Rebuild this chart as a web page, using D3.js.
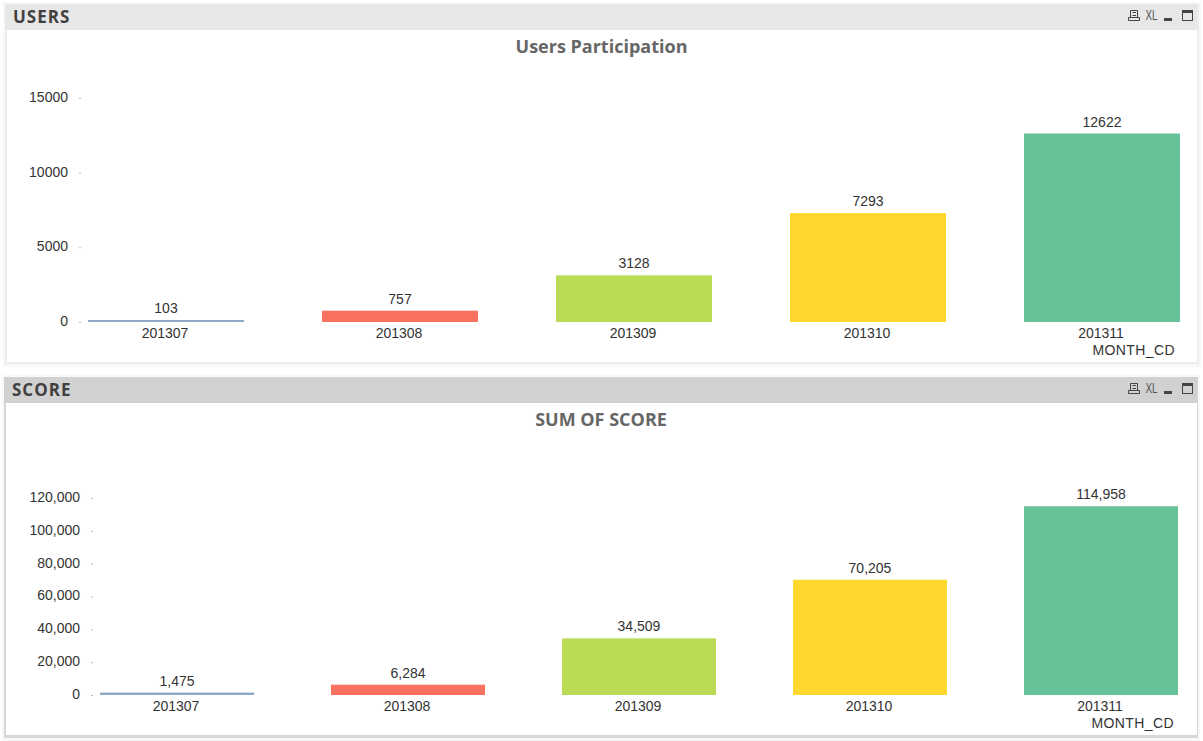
<!DOCTYPE html>
<html>
<head>
<meta charset="utf-8">
<script src="https://cdn.jsdelivr.net/npm/d3@7"></script>
<style>
  html, body { margin: 0; padding: 0; background: #fff; overflow: hidden; }
  svg { display: block; }
  text { font-family: "Liberation Sans", Arial, sans-serif; }
  .caption { font-family: "Open Sans", sans-serif; font-weight: 700; font-size: 17px; letter-spacing: 1px; fill: #404040; }
  .title { font-family: "Open Sans", sans-serif; font-weight: 700; font-size: 18px; fill: #666; }
  .lbl { font-size: 14px; fill: #333; }
</style>
</head>
<body>
<svg id="chart" width="1203" height="741"></svg>
<script>
  const MONTHS = ["201307", "201308", "201309", "201310", "201311"];
  const COLORS = ["#8dabc9", "#fb7160", "#badb55", "#fed82c", "#66c398"];

  const USERS = [103, 757, 3128, 7293, 12622];
  const USERS_TICKS = [0, 5000, 10000, 15000];

  const SCORE = [1475, 6284, 34509, 70205, 114958];
  const SCORE_TICKS = [0, 20000, 40000, 60000, 80000, 100000, 120000];

  const svg = d3.select("#chart");
  const fmtComma = d3.format(",");
  const fmtPlain = d3.format("d");

  function drawIcons(g, right, cy) {
    // print / XL / minimize / maximize buttons on the caption bar
    const ic = g.append("g").attr("fill", "none").attr("stroke", "#444");
    const px = right - 64;
    ic.append("path")
      .attr("d", `M${px + 1.5} ${cy + 1}V${cy - 5.5}H${px + 8.5}V${cy + 1}M${px - 0.5} ${cy + 1.5}H${px + 10.5}V${cy + 4.5}H${px - 0.5}ZM${px + 3.5} ${cy - 3.5}H${px + 7}M${px + 3.5} ${cy - 0.5}H${px + 7}`);
    g.append("text")
      .attr("x", right - 47.5)
      .attr("y", cy + 4)
      .attr("font-size", 15)
      .attr("fill", "#555")
      .attr("textLength", 12)
      .attr("lengthAdjust", "spacingAndGlyphs")
      .text("XL");
    g.append("rect")
      .attr("x", right - 29)
      .attr("y", cy + 2)
      .attr("width", 8)
      .attr("height", 3)
      .attr("fill", "#444");
    ic.append("rect")
      .attr("x", right - 10.5)
      .attr("y", cy - 5.5)
      .attr("width", 10)
      .attr("height", 10);
    g.append("rect")
      .attr("x", right - 11)
      .attr("y", cy - 6)
      .attr("width", 11)
      .attr("height", 3)
      .attr("fill", "#444");
  }

  function drawPanel(opts) {
    const g = svg.append("g");
    // outer shadow frame
    g.append("rect")
      .attr("x", opts.frameX0 - 2)
      .attr("y", opts.top - 2)
      .attr("width", opts.frameX1 - opts.frameX0 + 4)
      .attr("height", opts.frameBottom - opts.top + 5)
      .attr("fill", "#f8f8f8");
    g.append("rect")
      .attr("x", opts.frameX0)
      .attr("y", opts.top)
      .attr("width", opts.frameX1 - opts.frameX0)
      .attr("height", opts.frameBottom - opts.top)
      .attr("fill", opts.frame);
    g.append("rect")
      .attr("x", opts.frameX0)
      .attr("y", opts.top)
      .attr("width", opts.x1 - opts.frameX0)
      .attr("height", 26)
      .attr("fill", opts.capFill);
    g.append("rect")
      .attr("x", opts.x0)
      .attr("y", opts.top + 26)
      .attr("width", opts.x1 - opts.x0)
      .attr("height", opts.bottom - opts.top - 26)
      .attr("fill", "#fff");

    g.append("text")
      .attr("class", "caption")
      .attr("x", opts.frameX0 + 8)
      .attr("y", opts.top + 19)
      .text(opts.caption);
    drawIcons(g, 1193, opts.top + 12);

    g.append("text")
      .attr("class", "title")
      .attr("x", opts.titleX)
      .attr("y", opts.top + 49)
      .attr("text-anchor", "middle")
      .text(opts.title);

    const x = d3.scaleBand()
      .domain(MONTHS)
      .range(opts.xRange)
      .paddingInner(1 / 3)
      .paddingOuter(0);

    const y = d3.scaleLinear()
      .domain([0, opts.yMax])
      .range(opts.yRange);

    g.selectAll(".bar")
      .data(opts.values)
      .join("rect")
      .attr("class", "bar")
      .attr("x", (d, i) => x(MONTHS[i]))
      .attr("y", (d) => Math.min(y(d), y(0) - 2))
      .attr("width", x.bandwidth())
      .attr("height", (d) => Math.max(2, y(0) - y(d)))
      .attr("fill", (d, i) => COLORS[i]);

    g.selectAll(".val")
      .data(opts.values)
      .join("text")
      .attr("class", "lbl")
      .attr("x", (d, i) => x(MONTHS[i]) + x.bandwidth() / 2)
      .attr("y", (d) => y(d) - 7)
      .attr("text-anchor", "middle")
      .text((d) => opts.fmt(d));

    const axisY = d3.axisLeft(y)
      .tickValues(opts.ticks)
      .tickFormat(opts.fmt)
      .tickSize(2)
      .tickPadding(11);
    const ay = g.append("g")
      .attr("transform", `translate(${opts.axisX},0)`)
      .call(axisY);
    ay.select(".domain").remove();
    ay.selectAll("line").attr("stroke", "#bbb");
    ay.selectAll("text")
      .attr("class", "lbl")
      .attr("font-family", null)
      .attr("font-size", null)
      .attr("y", -1);

    const axisX = d3.axisBottom(x).tickSize(0).tickPadding(6);
    const ax = g.append("g")
      .attr("transform", `translate(-1,${y(0)})`)
      .call(axisX);
    ax.select(".domain").remove();
    ax.selectAll("text").attr("class", "lbl").attr("font-family", null).attr("font-size", null);

    g.append("text")
      .attr("class", "lbl")
      .attr("x", opts.dimX)
      .attr("y", opts.dimY)
      .attr("text-anchor", "end")
      .attr("letter-spacing", 0.4)
      .text("MONTH_CD");
  }

  drawPanel({
    caption: "USERS", title: "Users Participation",
    top: 4, bottom: 362, frameBottom: 364,
    frameX0: 5, frameX1: 1199, x0: 7, x1: 1197,
    frame: "#ececec", capFill: "#e7e7e7", titleX: 601.5,
    xRange: [88, 1180], yRange: [322, 98], yMax: 15000,
    values: USERS, ticks: USERS_TICKS, fmt: fmtPlain, axisX: 81,
    dimX: 1175, dimY: 355
  });

  drawPanel({
    caption: "SCORE", title: "SUM OF SCORE",
    top: 377, bottom: 735, frameBottom: 738,
    frameX0: 4, frameX1: 1198, x0: 6, x1: 1197,
    frame: "#d6d6d6", capFill: "#d1d1d1", titleX: 601,
    xRange: [100, 1178], yRange: [695, 498], yMax: 120000,
    values: SCORE, ticks: SCORE_TICKS, fmt: fmtComma, axisX: 93,
    dimX: 1174, dimY: 728
  });
</script>
</body>
</html>
